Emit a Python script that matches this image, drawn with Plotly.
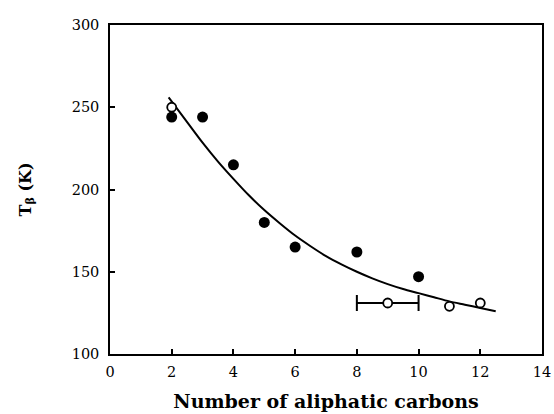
import plotly.graph_objects as go

# Filled circles
filled_x = [2, 3, 4, 5, 6, 8, 10]
filled_y = [244, 244, 215, 180, 165, 162, 147]

# Open circles
open_x = [2, 9, 11, 12]
open_y = [250, 131, 129, 131]
# horizontal error (only for the point at 9)
open_err = [0, 1, 0, 0]

# Fitted curve
curve_x = [1.9, 2.5, 3, 3.5, 4, 4.5, 5, 5.5, 6, 6.5, 7, 7.5, 8, 8.5, 9, 9.5, 10, 10.5, 11, 11.5, 12, 12.5]
curve_y = [256, 241, 228.5, 217, 206.5, 196.5, 187.5, 179.5, 172, 165.5, 159.5, 154.5, 150, 146,
           142.5, 139.5, 137, 134.5, 132, 130, 128, 126]

x_ticks = [0, 2, 4, 6, 8, 10, 12, 14]
y_ticks = [100, 150, 200, 250, 300]

font_family = "DejaVu Serif"

err_idx = [i for i, e in enumerate(open_err) if e > 0]
plain_idx = [i for i, e in enumerate(open_err) if e == 0]

open_marker = dict(color="white", size=9, symbol="circle", line=dict(color="black", width=1.8))

fig = go.Figure()
fig.add_trace(go.Scatter(x=curve_x, y=curve_y, mode="lines",
                         line=dict(color="black", width=2, shape="spline", smoothing=0.8),
                         showlegend=False, hoverinfo="skip"))
fig.add_trace(go.Scatter(x=filled_x, y=filled_y, mode="markers",
                         marker=dict(color="black", size=11, symbol="circle"),
                         showlegend=False))
fig.add_trace(go.Scatter(x=[open_x[i] for i in err_idx], y=[open_y[i] for i in err_idx],
                         mode="markers", marker=open_marker,
                         error_x=dict(type="data", array=[open_err[i] for i in err_idx],
                                      visible=True, color="black", thickness=2, width=8),
                         showlegend=False))
fig.add_trace(go.Scatter(x=[open_x[i] for i in plain_idx], y=[open_y[i] for i in plain_idx],
                         mode="markers", marker=open_marker, showlegend=False))

fig.update_layout(
    width=554, height=414,
    margin=dict(l=110, r=12, t=25, b=60, autoexpand=False),
    paper_bgcolor="white", plot_bgcolor="white",
    font=dict(family=font_family, color="black", size=14),
    xaxis=dict(range=[0, 14], tickvals=x_ticks, ticktext=[str(v) for v in x_ticks],
               automargin=False,
               showgrid=False, zeroline=False, showline=True, linecolor="black",
               linewidth=1.5, mirror=True, ticks="inside", ticklen=5, tickwidth=1.5,
               tickcolor="black", tickfont=dict(size=14.5, family=font_family),
               ticklabelstandoff=4,
               title=dict(text="<b>Number of aliphatic carbons</b>",
                          font=dict(size=19, family=font_family), standoff=16)),
    yaxis=dict(range=[100, 300], tickvals=y_ticks, ticktext=[str(v) for v in y_ticks],
               automargin=False,
               showgrid=False, zeroline=False, showline=True, linecolor="black",
               linewidth=1.5, mirror=True, ticks="inside", ticklen=5, tickwidth=1.5,
               tickcolor="black", tickfont=dict(size=14.5, family=font_family),
               ticklabelstandoff=6,
               title=dict(text="<b>T<sub>β</sub> (K)</b>",
                          font=dict(size=16, family=font_family), standoff=36)),
)

fig.write_html("out.html", config={"displayModeBar": False},
               post_script="document.body.style.margin='0';")
